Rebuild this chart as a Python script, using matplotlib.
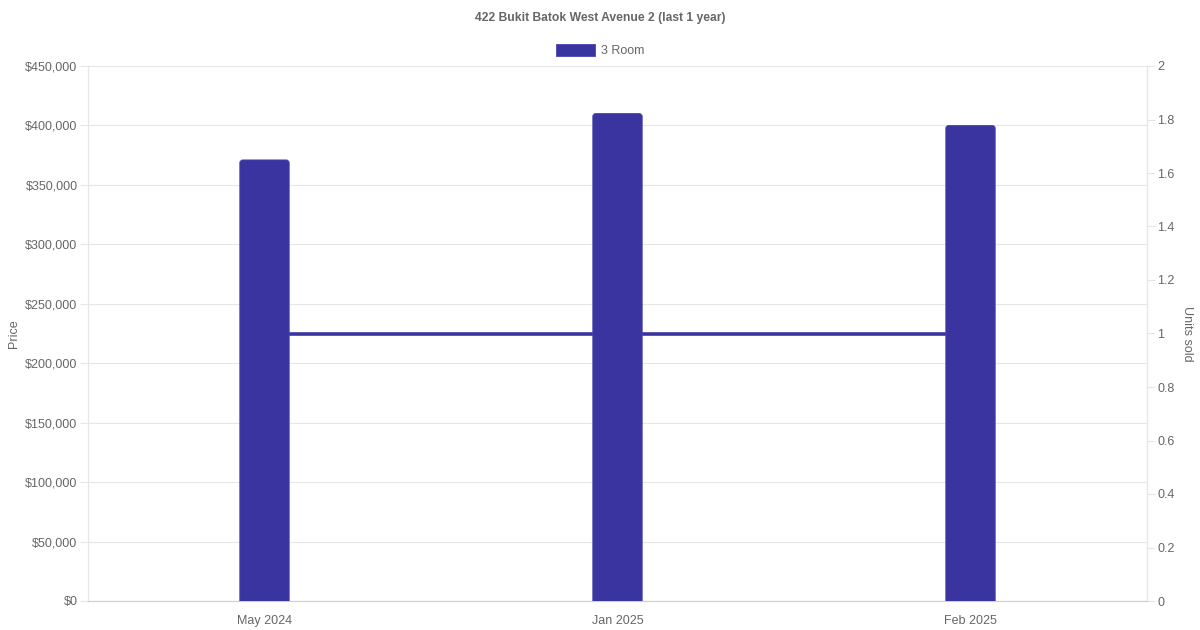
import matplotlib
matplotlib.use("Agg")
import matplotlib.pyplot as plt
from matplotlib.ticker import FuncFormatter, MultipleLocator
from matplotlib.patches import Rectangle, FancyBboxPatch

months = ["May 2024", "Jan 2025", "Feb 2025"]
prices = [371000, 410000, 400000]
units = [1, 1, 1]
series_name = "3 Room"
title = "422 Bukit Batok West Avenue 2 (last 1 year)"

plt.rcParams['font.family'] = ['Liberation Sans', 'DejaVu Sans']
BAR = "#3934a0"
TXT = "#666666"
GRID = "#e6e6e6"
FS = 9

fig = plt.figure(figsize=(12, 6.3), dpi=100)
ax = fig.add_axes([88/1200, 1-601/630, (1147-88)/1200, (601-66)/630])
ax2 = ax.twinx()

x = list(range(len(months)))
bw = 0.14
ax.set_xlim(-0.5, len(months) - 0.5)
ax.set_ylim(0, 450000)
px_x = (len(months)) / (1147 - 88)
px_y = 450000 / (601 - 66)
rad = 3 * px_x
for xi, p in zip(x, prices):
    bottom = -6 * px_y
    patch = FancyBboxPatch((xi - bw/2 + rad, bottom + rad * (px_y/px_x)),
                           bw - 2*rad, p - bottom - 2*rad*(px_y/px_x),
                           boxstyle=f"round,pad={rad},rounding_size={rad}",
                           mutation_aspect=px_y/px_x,
                           facecolor=BAR, edgecolor="#4a45b0", linewidth=0.6, zorder=3)
    ax.add_patch(patch)
ax2.plot(x, units, color=BAR, linewidth=2.6, zorder=1)
ax.set_zorder(ax2.get_zorder() + 1)
ax.patch.set_visible(False)
ax2.patch.set_visible(True)
ax2.patch.set_facecolor("white")

ax.yaxis.set_major_locator(MultipleLocator(50000))
ax.yaxis.set_major_formatter(FuncFormatter(lambda v, p: f"${int(v):,}"))
ax2.set_ylim(0, 2)
ax2.yaxis.set_major_locator(MultipleLocator(0.2))
ax2.yaxis.set_major_formatter(FuncFormatter(lambda v, p: f"{v:.1f}".rstrip('0').rstrip('.') if v else "0"))

ax.set_xticks(x)
ax.set_xticklabels(months)
ax.grid(axis="y", color=GRID, linewidth=0.8, zorder=0)
ax.set_axisbelow(True)

for a in (ax, ax2):
    for s in a.spines.values():
        s.set_color(GRID)
        s.set_linewidth(0.8)
    a.spines["top"].set_visible(False)
ax.spines["bottom"].set_color("#cfcfcf")

ax.tick_params(axis="y", colors=TXT, labelcolor=TXT, labelsize=FS, length=6, width=0.8, color=GRID, pad=1.5)
ax.tick_params(axis="x", labelcolor=TXT, labelsize=FS, length=0, pad=10)
ax2.tick_params(axis="y", labelcolor=TXT, labelsize=FS, length=6, width=0.8, color=GRID, pad=1.5)

ax.set_ylabel("Price", color=TXT, fontsize=FS, labelpad=4)
ax2.set_ylabel("Units sold", color=TXT, fontsize=FS, rotation=270, labelpad=13)

fig.text(0.5, 1-18/630, title, ha="center", va="center", fontsize=8.7, fontweight="bold", color=TXT)
# legend
fig.patches.append(Rectangle((556/1200, 1-56/630), 39/1200, 12/630, transform=fig.transFigure,
                             facecolor=BAR, edgecolor="#4a45b0", linewidth=0.6))
fig.text(601/1200, 1-51/630, series_name, ha="left", va="center", fontsize=FS, color=TXT)

fig.savefig("out.png", dpi=100)
